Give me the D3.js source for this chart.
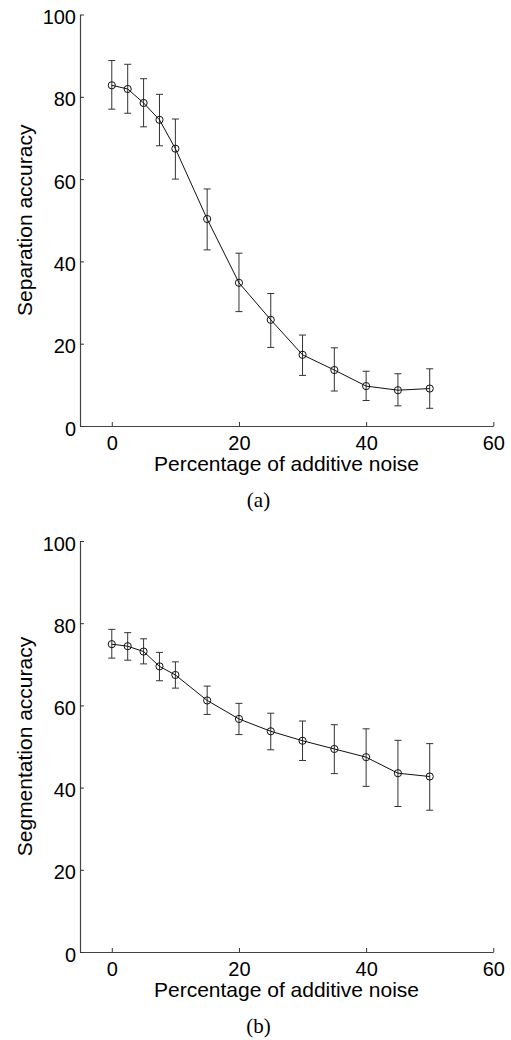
<!DOCTYPE html>
<html>
<head>
<meta charset="utf-8">
<script src="https://cdn.jsdelivr.net/npm/d3@7"></script>
<style>
  html, body { margin: 0; padding: 0; background: #fff; }
  svg { display: block; }
  text { font-family: Arial, "Liberation Sans", Helvetica, sans-serif; fill: #000; }
  text.caption { font-family: "Times New Roman", "Liberation Serif", serif; }
</style>
</head>
<body>
<svg id="chart" width="511" height="1040"></svg>
<script>
// ---- data ----
const noiseLevels = [0, 2.5, 5, 7.5, 10, 15, 20, 25, 30, 35, 40, 45, 50];

const separationMean  = [82.8, 81.9, 78.5, 74.4, 67.4, 50.3, 34.8, 25.8, 17.3, 13.6, 9.7, 8.7, 9.1];
const separationUpper = [88.8, 87.9, 84.4, 80.6, 74.6, 57.6, 42.0, 32.2, 22.1, 19.0, 13.3, 12.7, 13.9];
const separationLower = [77.0, 76.0, 72.7, 68.1, 60.0, 42.8, 27.8, 19.1, 12.3, 8.5, 6.2, 4.9, 4.3];

const segmentationMean  = [74.9, 74.4, 73.1, 69.5, 67.4, 61.2, 56.7, 53.7, 51.4, 49.4, 47.4, 43.5, 42.7];
const segmentationUpper = [78.5, 77.7, 76.2, 72.9, 70.6, 64.7, 60.5, 58.1, 56.2, 55.3, 54.3, 51.5, 50.7];
const segmentationLower = [71.5, 71.0, 70.1, 66.0, 64.2, 57.8, 52.9, 49.2, 46.6, 43.4, 40.3, 35.4, 34.5];

const xTicks = [0, 20, 40, 60];
const yTicks = [0, 20, 40, 60, 80, 100];
const xLabel = "Percentage of additive noise";
const panelYLabels = ["Separation accuracy", "Segmentation accuracy"];
const panelCaptions = ["(a)", "(b)"];

// ---- drawing ----
const svg = d3.select("#chart");

function drawPanel(opts) {
  const { top, bottom, mean, upper, lower, yLabel, caption } = opts;
  const left = 80, right = 493.3;
  const x = d3.scaleLinear().domain([-5, 60]).range([left, right]);
  const y = d3.scaleLinear().domain([0, 100]).range([bottom, top]);
  const g = svg.append("g");

  // axes (MATLAB style: ticks inward, no box)
  const xAxis = d3.axisBottom(x).tickValues(xTicks).tickSizeInner(-4).tickSizeOuter(0).tickFormat(d3.format("d"));
  const gx = g.append("g").attr("transform", `translate(0,${bottom})`).call(xAxis);
  gx.select(".domain").attr("stroke", "#444").attr("stroke-width", 1.2);
  gx.selectAll(".tick line").attr("stroke", "#333");
  gx.selectAll(".tick text").attr("font-size", 20).attr("y", 24).attr("dy", 0).attr("fill", "#000");

  const yAxis = d3.axisLeft(y).tickValues(yTicks).tickSizeInner(-4).tickSizeOuter(0).tickFormat(d3.format("d"));
  const gy = g.append("g").attr("transform", `translate(${left},0)`).call(yAxis);
  gy.select(".domain").attr("stroke", "#444").attr("stroke-width", 1.2);
  gy.selectAll(".tick line").attr("stroke", "#333");
  gy.selectAll(".tick text").attr("font-size", 20).attr("x", -4).attr("dy", 9).attr("fill", "#000");

  // axis labels
  g.append("text").attr("x", 286.5).attr("y", bottom + 45).attr("text-anchor", "middle")
    .attr("font-size", 21).text(xLabel);
  g.append("text").attr("transform", `translate(31.5,${(top + bottom) / 2}) rotate(-90)`)
    .attr("text-anchor", "middle").attr("font-size", 21).text(yLabel);
  g.append("text").attr("class", "caption").attr("x", 258.5).attr("y", bottom + 80.5)
    .attr("text-anchor", "middle").attr("font-size", 21).text(caption);

  const pts = noiseLevels.map((v, i) => ({ x: v, m: mean[i], hi: upper[i], lo: lower[i] }));

  // error bars
  const eb = g.append("g").attr("stroke", "#333").attr("stroke-width", 1).attr("fill", "none");
  const cap = 3.5;
  pts.forEach(p => {
    const cx = x(p.x);
    eb.append("line").attr("x1", cx).attr("x2", cx).attr("y1", y(p.hi)).attr("y2", y(p.lo));
    eb.append("line").attr("x1", cx - cap).attr("x2", cx + cap).attr("y1", y(p.hi)).attr("y2", y(p.hi));
    eb.append("line").attr("x1", cx - cap).attr("x2", cx + cap).attr("y1", y(p.lo)).attr("y2", y(p.lo));
  });

  // line
  const line = d3.line().x(p => x(p.x)).y(p => y(p.m));
  g.append("path").datum(pts).attr("d", line).attr("fill", "none").attr("stroke", "#111").attr("stroke-width", 1);

  // markers
  g.append("g").selectAll("circle").data(pts).join("circle")
    .attr("cx", p => x(p.x)).attr("cy", p => y(p.m)).attr("r", 3.6)
    .attr("fill", "none").attr("stroke", "#111").attr("stroke-width", 1);
}

drawPanel({ top: 14.5, bottom: 426, mean: separationMean, upper: separationUpper, lower: separationLower,
            yLabel: panelYLabels[0], caption: panelCaptions[0] });
drawPanel({ top: 541, bottom: 952, mean: segmentationMean, upper: segmentationUpper, lower: segmentationLower,
            yLabel: panelYLabels[1], caption: panelCaptions[1] });
</script>
</body>
</html>
